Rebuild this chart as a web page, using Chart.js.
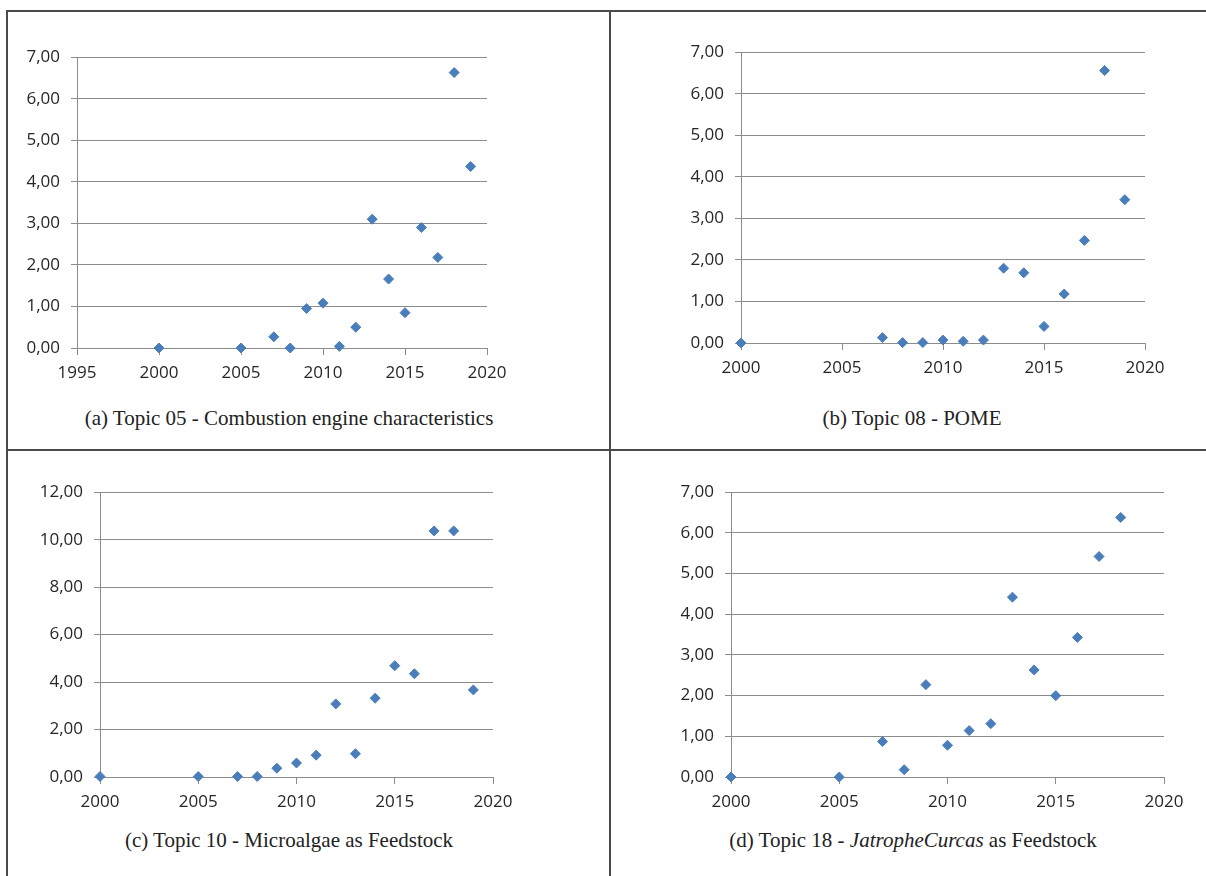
<!DOCTYPE html>
<html>
<head>
<meta charset="utf-8">
<script src="https://cdn.jsdelivr.net/npm/chart.js@4.4.0/dist/chart.umd.min.js"></script>
<style>
  html, body { margin: 0; padding: 0; background: #fff; }
  #page { position: relative; width: 1206px; height: 876px; overflow: hidden; }
  .line { position: absolute; background: #4a4a4a; }
  .panel-canvas { position: absolute; }
  .caption {
    position: absolute; width: 600px; text-align: center;
    font-family: "Liberation Serif", "Times New Roman", serif;
    font-size: 21px; line-height: 24px; color: #222;
  }
</style>
</head>
<body>
<div id="page">
  <div class="line" style="left:6px; top:10px; width:1200px; height:2px;"></div>
  <div class="line" style="left:6px; top:10px; width:2px; height:866px;"></div>
  <div class="line" style="left:609px; top:10px; width:2px; height:866px;"></div>
  <div class="line" style="left:6px; top:449px; width:1200px; height:2px;"></div>

  <div class="caption" style="left:-11px; top:406px;">(a) Topic 05 - Combustion engine characteristics</div>
  <div class="caption" style="left:612px; top:406px;">(b) Topic 08 - POME</div>
  <div class="caption" style="left:-11px; top:828px;">(c) Topic 10 - Microalgae as Feedstock</div>
  <div class="caption" style="left:613px; top:828px;">(d) Topic 18 - <i>JatropheCurcas</i> as Feedstock</div>
</div>
<script>
// Topic 05 - Combustion engine characteristics
const years05 = [2000, 2005, 2007, 2008, 2009, 2010, 2011, 2012, 2013, 2014, 2015, 2016, 2017, 2018, 2019];
const values05 = [0, 0, 0.27, 0, 0.95, 1.08, 0.04, 0.5, 3.1, 1.66, 0.85, 2.9, 2.18, 6.63, 4.37];

// Topic 08 - POME
const years08 = [2000, 2007, 2008, 2009, 2010, 2011, 2012, 2013, 2014, 2015, 2016, 2017, 2018, 2019];
const values08 = [0, 0.13, 0.01, 0.01, 0.07, 0.04, 0.07, 1.8, 1.69, 0.4, 1.18, 2.47, 6.56, 3.45];

// Topic 10 - Microalgae as Feedstock
const years10 = [2000, 2005, 2007, 2008, 2009, 2010, 2011, 2012, 2013, 2014, 2015, 2016, 2017, 2018, 2019];
const values10 = [0.02, 0.02, 0.02, 0.02, 0.37, 0.59, 0.92, 3.08, 0.98, 3.32, 4.69, 4.35, 10.37, 10.37, 3.67];

// Topic 18 - JatropheCurcas as Feedstock
const years18 = [2000, 2005, 2007, 2008, 2009, 2010, 2011, 2012, 2013, 2014, 2015, 2016, 2017, 2018];
const values18 = [0, 0, 0.87, 0.18, 2.27, 0.78, 1.14, 1.31, 4.42, 2.63, 2.0, 3.43, 5.42, 6.38];

// axis ranges (min, max, step)
const xRange05 = [1995, 2020, 5];
const xRange = [2000, 2020, 5];
const yRange7 = [0, 7, 1];
const yRange12 = [0, 12, 2];

const MARKER = '#4a7ebb';
const GRID = '#8c8c8c';
const TICK_FONT = { family: '"Open Sans", "DejaVu Sans", sans-serif', size: 17 };
const Y_W = 70;   // fixed width of the y axis box
const X_H = 45;   // fixed height of the x axis box
const PAD_T = 20, PAD_R = 30;

// chart area of each panel on the page: left, top, right, bottom
const panels = [
  { area: [77, 56, 487, 348],  years: years05, values: values05, xr: xRange05, yr: yRange7 },
  { area: [741, 51, 1145, 343], years: years08, values: values08, xr: xRange, yr: yRange7 },
  { area: [100, 491, 493, 777], years: years10, values: values10, xr: xRange, yr: yRange12 },
  { area: [731, 491, 1164, 777], years: years18, values: values18, xr: xRange, yr: yRange7 }
];

function fmt(v) {
  return v.toFixed(2).replace('.', ',');
}

function makePanel(p) {
  const [l, t, r, b] = p.area;
  const canvas = document.createElement('canvas');
  const w = (r - l) + Y_W + PAD_R;
  const h = (b - t) + PAD_T + X_H;
  canvas.width = w;
  canvas.height = h;
  canvas.className = 'panel-canvas';
  canvas.style.left = (l - Y_W) + 'px';
  canvas.style.top = (t - PAD_T) + 'px';
  canvas.style.width = w + 'px';
  canvas.style.height = h + 'px';
  document.getElementById('page').appendChild(canvas);

  new Chart(canvas, {
    type: 'scatter',
    data: {
      datasets: [{
        data: p.years.map((yr, i) => ({ x: yr, y: p.values[i] })),
        pointStyle: 'rectRot',
        pointRadius: 5,
        pointHoverRadius: 5,
        backgroundColor: MARKER,
        borderColor: MARKER,
        borderWidth: 1,
        clip: false
      }]
    },
    options: {
      responsive: false,
      animation: false,
      devicePixelRatio: 1,
      layout: { padding: { left: 0, top: PAD_T, right: PAD_R, bottom: 0 } },
      plugins: { legend: { display: false }, tooltip: { enabled: false } },
      scales: {
        x: {
          type: 'linear',
          min: p.xr[0], max: p.xr[1],
          afterFit: (s) => { s.height = X_H; },
          ticks: { stepSize: p.xr[2], color: '#262626', font: TICK_FONT, padding: 8, maxRotation: 0,
                   callback: (v) => String(v) },
          grid: { drawOnChartArea: false, drawTicks: true, tickLength: 7, color: GRID, lineWidth: 1 },
          border: { display: true, color: GRID, width: 1 }
        },
        y: {
          min: p.yr[0], max: p.yr[1],
          afterFit: (s) => { s.width = Y_W; },
          ticks: { stepSize: p.yr[2], color: '#262626', font: TICK_FONT, padding: 11,
                   callback: (v) => fmt(v) },
          grid: { drawOnChartArea: true, drawTicks: true, tickLength: 6, color: GRID, lineWidth: 1 },
          border: { display: true, color: GRID, width: 1 }
        }
      }
    }
  });
}

panels.forEach(makePanel);
</script>
</body>
</html>
